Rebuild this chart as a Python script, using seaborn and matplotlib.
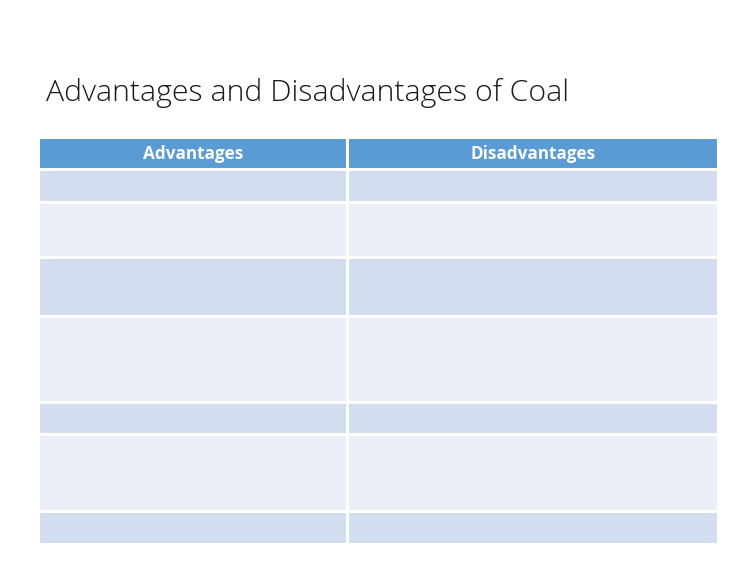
#!/usr/bin/env python3
import matplotlib
matplotlib.use('Agg')
import matplotlib.pyplot as plt
import seaborn as sns
import numpy as np

sns.set_style('white')
plt.rcParams['font.family'] = ['Open Sans', 'DejaVu Sans']

title = 'Advantages and Disadvantages of Coal'
columns = ['Advantages', 'Disadvantages']
col_widths = [308.5, 369.5]
# header row first, then the (empty) body rows
row_heights = [31.5, 33, 55, 59, 85, 32, 77, 32.5]
row_kind = ['header', 'dark', 'light', 'dark', 'light', 'dark', 'light', 'dark']

colors = {'header': '#5B9BD5', 'dark': '#D2DEEF', 'light': '#EAEFF7'}


def main():
    fig = plt.figure(figsize=(7.56, 5.76), dpi=100)
    ax = fig.add_axes([38 / 756, 1 - 544 / 576, 680 / 756, 407 / 576])

    col_left = np.concatenate([[0], np.cumsum(col_widths)[:-1]])
    row_top = np.concatenate([[0], np.cumsum(row_heights)[:-1]])

    for top, h, kind in zip(row_top, row_heights, row_kind):
        ax.bar(col_left, [h] * len(col_widths), width=col_widths, bottom=top,
               align='edge', color=colors[kind], edgecolor='white', linewidth=2.2)

    for left, w, name in zip(col_left, col_widths, columns):
        ax.text(left + w / 2, row_heights[0] / 2 + 1, name, ha='center', va='center',
                color='white', fontsize=12.3, fontweight='bold')

    ax.set_xlim(0, sum(col_widths))
    ax.set_ylim(sum(row_heights), 0)
    ax.axis('off')

    fig.text(46 / 756, 1 - 93 / 576, title, ha='left', va='center',
             fontsize=21.8, fontweight='light', color='#1a1a1a')

    fig.savefig('out.png', dpi=100)


if __name__ == '__main__':
    main()
